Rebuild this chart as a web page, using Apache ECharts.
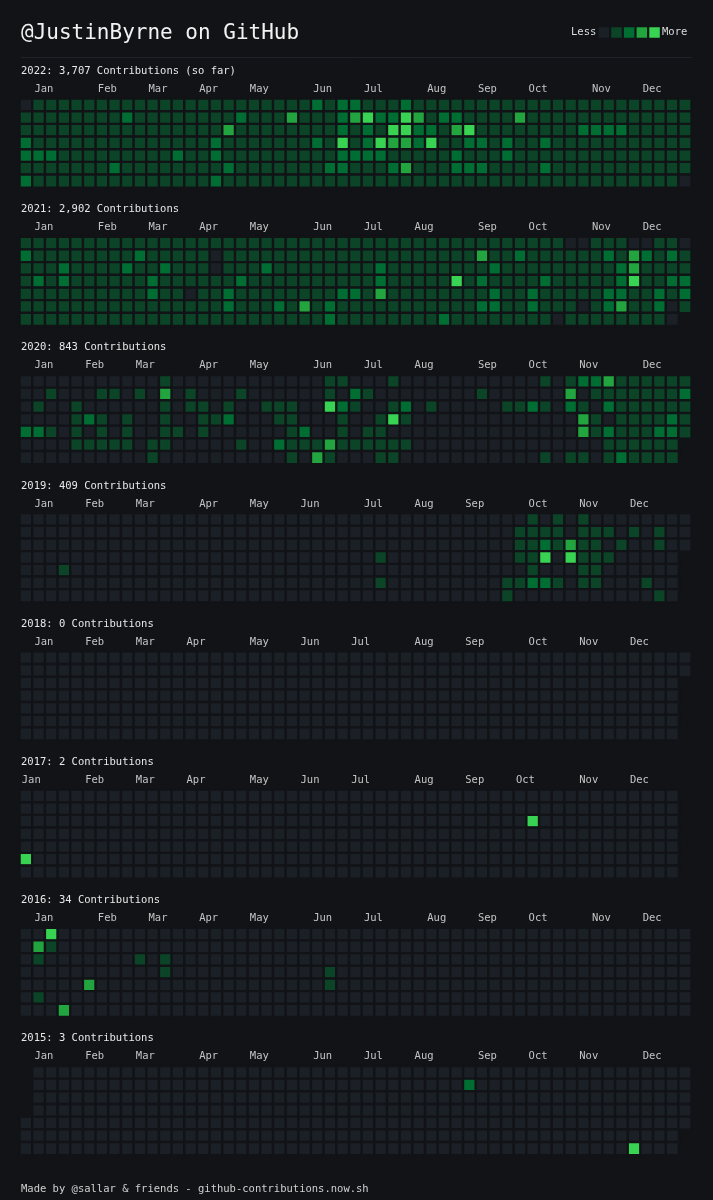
<!DOCTYPE html>
<html>
<head>
<meta charset="utf-8">
<title>@JustinByrne on GitHub</title>
<script src="https://cdn.jsdelivr.net/npm/echarts@6/dist/echarts.min.js"></script>
<style>
  html, body { margin: 0; padding: 0; background: #111317; }
  #chart { width: 713px; height: 1200px; }
</style>
</head>
<body>
<div id="chart"></div>
<script>
// one string per weekday (Sun..Sat), one char per week column: 0-4 = level, '-' = no cell
var years = [2022, 2021, 2020, 2019, 2018, 2017, 2016, 2015];
var totals = ['3,707', '2,902', '843', '409', '0', '2', '34', '3'];
var monthNames = ['Jan', 'Feb', 'Mar', 'Apr', 'May', 'Jun', 'Jul', 'Aug', 'Sep', 'Oct', 'Nov', 'Dec'];

var months2022 = [1, 6, 10, 14, 18, 23, 27, 32, 36, 40, 45, 49];
var months2021 = [1, 6, 10, 14, 18, 23, 27, 31, 36, 40, 45, 49];
var months2020 = [1, 5, 9, 14, 18, 23, 27, 31, 36, 40, 44, 49];
var months2019 = [1, 5, 9, 14, 18, 22, 27, 31, 35, 40, 44, 48];
var months2018 = [1, 5, 9, 13, 18, 22, 26, 31, 35, 40, 44, 48];
var months2017 = [0, 5, 9, 13, 18, 22, 26, 31, 35, 39, 44, 48];
var months2016 = [1, 6, 10, 14, 18, 23, 27, 32, 36, 40, 45, 49];
var months2015 = [1, 5, 9, 14, 18, 23, 27, 31, 36, 40, 44, 49];

var days2022 = [
  '0111111111 1111111111 1112122111 2111111111 1111111111 111',
  '1111111121 1111111211 1311123422 4312211113 1111111111 111',
  '1111111111 1111113111 1111121214 4221341111 1111222211 111',
  '2111111111 1111121111 1112141243 3241122121 1211111111 111',
  '2221111111 1121121111 1111122221 1111211121 1111111111 111',
  '1111111211 1111112111 1111221112 3111222111 1211111111 111',
  '2111111111 1111121111 1111111111 1111111111 1111111111 110'
];
var days2021 = [
  '1111111111 1111111111 1111111111 1111111111 1110011100 110',
  '2111111112 1111101111 1111111111 1111113112 1111112132 121',
  '1112111121 1211101112 1111111121 1111111211 1111111231 111',
  '1212111111 2111111211 1111111121 1111412111 1211111241 122',
  '1111111111 2110112111 1111122131 1111111211 2111112211 212',
  '1111111111 1111112111 2131211111 1111112211 2111012311 201',
  '1111111111 1111111111 1111211111 1112111111 1101111111 10-'
];
var days2020 = [
  '0000000000 0100000000 0000110001 0000000000 0101223111 111',
  '0010001101 0301000100 0000102100 0000001000 0003011111 112',
  '0100100000 0101101001 1100421001 2010000011 2102102111 111',
  '0000121010 0100112000 1100010014 1000000000 0000310111 121',
  '2210101010 0110100000 0120010110 0000000000 0000312111 221',
  '0000111110 1100000100 2111311111 1000000000 0000001111 11-',
  '0000000000 1000000000 0103100011 0000000000 0101101211 11-'
];
var days2019 = [
  '0000000000 0000000000 0000000000 0000000000 1010100000 000',
  '0000000000 0000000000 0000000000 0000000001 1110111010 100',
  '0000000000 0000000000 0000000000 0000000001 1213110100 100',
  '0000000000 0000000000 0000000010 0000000001 1404111000 00-',
  '0001000000 0000000000 0000000000 0000000000 1000110000 00-',
  '0000000000 0000000000 0000000010 0000000011 2210110001 00-',
  '0000000000 0000000000 0000000000 0000000010 0000000000 10-'
];
var days2018 = [
  '0000000000 0000000000 0000000000 0000000000 0000000000 000',
  '0000000000 0000000000 0000000000 0000000000 0000000000 000',
  '0000000000 0000000000 0000000000 0000000000 0000000000 00-',
  '0000000000 0000000000 0000000000 0000000000 0000000000 00-',
  '0000000000 0000000000 0000000000 0000000000 0000000000 00-',
  '0000000000 0000000000 0000000000 0000000000 0000000000 00-',
  '0000000000 0000000000 0000000000 0000000000 0000000000 00-'
];
var days2017 = [
  '0000000000 0000000000 0000000000 0000000000 0000000000 00-',
  '0000000000 0000000000 0000000000 0000000000 0000000000 00-',
  '0000000000 0000000000 0000000000 0000000000 4000000000 00-',
  '0000000000 0000000000 0000000000 0000000000 0000000000 00-',
  '0000000000 0000000000 0000000000 0000000000 0000000000 00-',
  '4000000000 0000000000 0000000000 0000000000 0000000000 00-',
  '0000000000 0000000000 0000000000 0000000000 0000000000 00-'
];
var days2016 = [
  '0040000000 0000000000 0000000000 0000000000 0000000000 000',
  '0310000000 0000000000 0000000000 0000000000 0000000000 000',
  '0100000001 0100000000 0000000000 0000000000 0000000000 000',
  '0000000000 0100000000 0000100000 0000000000 0000000000 000',
  '0000030000 0000000000 0000100000 0000000000 0000000000 000',
  '0100000000 0000000000 0000000000 0000000000 0000000000 000',
  '0003000000 0000000000 0000000000 0000000000 0000000000 000'
];
var days2015 = [
  '-000000000 0000000000 0000000000 0000000000 0000000000 000',
  '-000000000 0000000000 0000000000 0000020000 0000000000 000',
  '-000000000 0000000000 0000000000 0000000000 0000000000 000',
  '-000000000 0000000000 0000000000 0000000000 0000000000 000',
  '0000000000 0000000000 0000000000 0000000000 0000000000 000',
  '0000000000 0000000000 0000000000 0000000000 0000000000 00-',
  '0000000000 0000000000 0000000000 0000000000 0000000040 00-'
];

var allDays = [days2022, days2021, days2020, days2019, days2018, days2017, days2016, days2015];
var allMonths = [months2022, months2021, months2020, months2019, months2018, months2017, months2016, months2015];

var levelColors = ['#1b1f26', '#0b4427', '#006d32', '#22a43f', '#39d353'];
var bg = '#111317';
var font = "'DejaVu Sans Mono', monospace";

var myChart = echarts.init(document.getElementById('chart'));

var weekCats = [];
for (var w = 0; w < 53; w++) weekCats.push(w);
var dayCats = [0, 1, 2, 3, 4, 5, 6];

var pitch = 12.67;
var grids = [], xAxes = [], yAxes = [], series = [];
var titles = [{
    text: '@JustinByrne on GitHub',
    left: 21, top: 23, padding: 0,
    textStyle: { color: '#f2f2f2', fontSize: 21, fontWeight: 'normal', fontFamily: font }
}];

years.forEach(function (year, k) {
    var top = 98.8 + 138.2 * k;
    grids.push({ left: 19.8, top: top, width: pitch * 53, height: pitch * 7 });

    titles.push({
        text: year + ': ' + totals[k] + ' Contributions' + (k === 0 ? ' (so far)' : ''),
        left: 21, top: top - 33, padding: 0,
        textStyle: { color: '#e8e8e8', fontSize: 10.5, fontWeight: 'normal', fontFamily: font }
    });

    // category axis for the cells
    xAxes.push({
        type: 'category', gridIndex: k, data: weekCats, show: false
    });
    // value axis only for the month labels on top
    var cols = allMonths[k];
    xAxes.push({
        type: 'value', gridIndex: k, position: 'top', min: 0, max: 53, interval: 1,
        axisLine: { show: false }, axisTick: { show: false }, splitLine: { show: false },
        axisLabel: {
            color: '#c4c4c4', fontSize: 10.5, fontFamily: font, align: 'left',
            margin: 4, padding: [0, 0, 0, 2],
            formatter: function (v) {
                var i = cols.indexOf(v);
                return i >= 0 ? monthNames[i] : '';
            }
        }
    });
    yAxes.push({
        type: 'category', gridIndex: k, data: dayCats, inverse: true, show: false
    });

    var data = [];
    allDays[k].forEach(function (row, r) {
        var s = row.replace(/ /g, '');
        for (var c = 0; c < s.length; c++) {
            if (s[c] !== '-') data.push([c, r, +s[c]]);
        }
    });
    series.push({
        name: String(year),
        type: 'heatmap',
        xAxisIndex: k * 2,
        yAxisIndex: k,
        data: data,
        itemStyle: { borderColor: bg, borderWidth: 2.4 },
        emphasis: { disabled: true },
        silent: true
    });
});

titles.push({
    text: 'Made by @sallar & friends - github-contributions.now.sh',
    left: 21, top: 1184, padding: 0,
    textStyle: { color: '#d0d0d0', fontSize: 10.5, fontWeight: 'normal', fontFamily: font }
});

var option = {
    backgroundColor: bg,
    animation: false,
    title: titles,
    grid: grids,
    xAxis: xAxes,
    yAxis: yAxes,
    visualMap: {
        type: 'piecewise',
        dimension: 2,
        orient: 'horizontal',
        left: 571, top: 27, padding: 0,
        itemWidth: 10.5, itemHeight: 10.5, itemGap: 2.2, textGap: 5,
        itemSymbol: 'rect',
        text: ['More', 'Less'],
        textStyle: { color: '#dddddd', fontSize: 10.5, fontFamily: font },
        selectedMode: false,
        hoverLink: false,
        pieces: levelColors.map(function (col, i) {
            return { value: i, color: col };
        })
    },
    graphic: [{
        type: 'line',
        shape: { x1: 21, y1: 57.5, x2: 692, y2: 57.5 },
        style: { stroke: '#1f2329', lineWidth: 1 }
    }],
    series: series
};

myChart.setOption(option);
</script>
</body>
</html>
